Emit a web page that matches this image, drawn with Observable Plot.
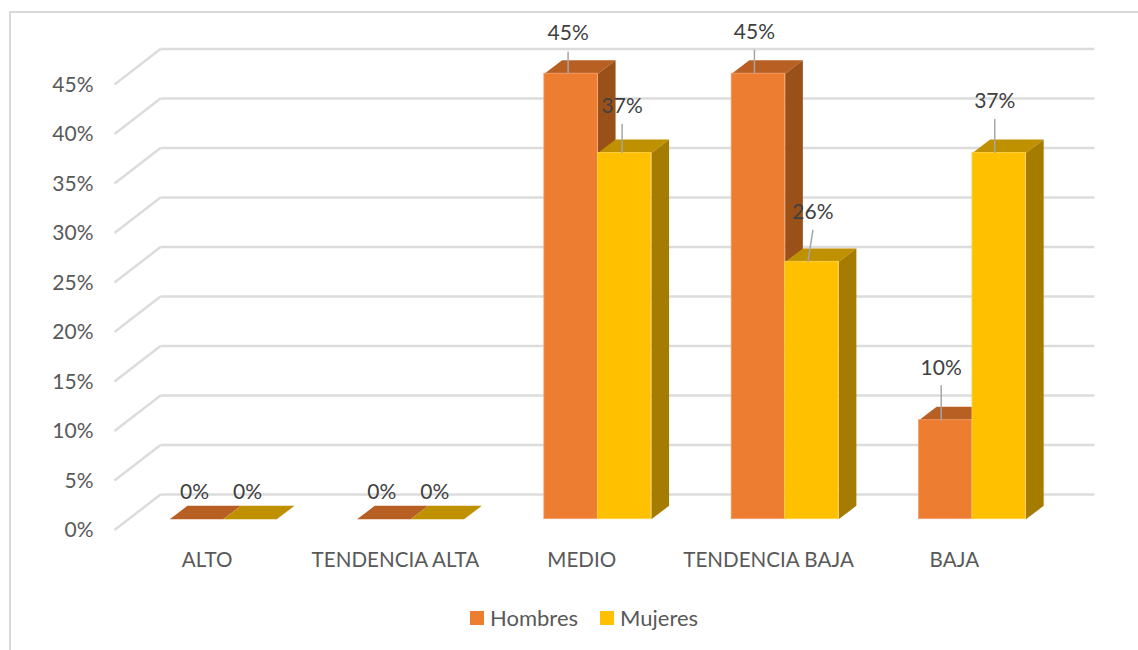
<!DOCTYPE html>
<html lang="es">
<head>
<meta charset="utf-8">
<style>
  html, body { margin: 0; padding: 0; background: #fff; overflow: hidden; }
  body { width: 1138px; height: 650px; position: relative; font-family: Lato, "Open Sans", sans-serif; }
  #frame { position: absolute; left: 9px; top: 11px; right: 0; bottom: 0; border-top: 2px solid #d9d9d9; border-left: 2px solid #d9d9d9; pointer-events: none; }
  #chart svg { display: block; }
  #legend { position: absolute; left: 0; top: 590px; width: 1138px; height: 60px; color: #595959; font-size: 22px; }
  #legend span { position: absolute; top: 15px; line-height: 25px; }
  #legend i { position: absolute; top: 20.5px; width: 14px; height: 14px; }
</style>
<script src="https://cdn.jsdelivr.net/npm/d3@7"></script>
<script src="https://cdn.jsdelivr.net/npm/@observablehq/plot@0.6"></script>
</head>
<body>
<div id="frame"></div>
<div id="chart"></div>
<div id="legend"></div>
<script>
const categories = ["ALTO", "TENDENCIA ALTA", "MEDIO", "TENDENCIA BAJA", "BAJA"];
const hombres = [0, 0, 45, 45, 10];
const mujeres = [0, 0, 37, 26, 37];
const yTicks = [0, 5, 10, 15, 20, 25, 30, 35, 40, 45];

const seriesStyle = {
  Hombres: { front: "#ed7d31", top: "#b85f24", side: "#9a5019", edge: "#f3a26c" },
  Mujeres: { front: "#ffc000", top: "#bf9000", side: "#a67c00", edge: "#ffd24d" }
};

// Leader-line label placement in pixels: [text dx from bar centre, text y above top, leader gap, leader foot dx]
const labelPlace = {
  "MEDIO|Hombres": [-3, 40, 22, 0], "MEDIO|Mujeres": [-2.5, 47, 29, 0],
  "TENDENCIA BAJA|Hombres": [-4, 41, 24, 0], "TENDENCIA BAJA|Mujeres": [1, 50, 32, -5],
  "BAJA|Hombres": [-4.5, 52, 35, 0], "BAJA|Mujeres": [-4.5, 52, 34, 0]
};
const zeroLabelDx = [-2, -2.5];
const categoryNudge = [-1, 0, -1, -1.5, -3];

const PXU = 187.3, PXV = 9.9;
const barStart = 0.295, barW = 0.2857, depthX = 0.0945, depthY = 1.35;
const backX = 0.2456, backY = 2.49, frontY = -1.09, gridEnd = 5.232;
const FONT = "Lato, 'Open Sans', sans-serif";

const bars = categories.flatMap((c, i) => [
  { c, i, s: "Hombres", k: 0, v: hombres[i] },
  { c, i, s: "Mujeres", k: 1, v: mujeres[i] }
]).map(d => ({ ...d, x0: d.i + barStart + d.k * barW, x1: d.i + barStart + (d.k + 1) * barW }));

const facePts = (d, kind) => kind === "top"
  ? [[d.x0, d.v], [d.x1, d.v], [d.x1 + depthX, d.v + depthY], [d.x0 + depthX, d.v + depthY]]
  : [[d.x1, 0], [d.x1, d.v], [d.x1 + depthX, d.v + depthY], [d.x1 + depthX, depthY]];

const face = (d, kind) => Plot.line(facePts(d, kind), {
  x: p => p[0], y: p => p[1], fill: seriesStyle[d.s][kind], stroke: "none", curve: "linear-closed"
});

const barMarks = bars.flatMap(d => {
  const parts = [face(d, "top")];
  if (d.v > 0) {
    parts.push(face(d, "side"));
    parts.push(Plot.rect([d], {
      x1: "x0", x2: "x1", y1: 0, y2: "v",
      fill: seriesStyle[d.s].front, stroke: seriesStyle[d.s].edge, strokeWidth: 0.8
    }));
  }
  return parts;
});

const labelMarks = bars.flatMap(d => {
  const cx = (d.x0 + d.x1) / 2;
  const text = { fill: "#404040", fontSize: 21, fontFamily: FONT };
  if (d.v === 0) {
    return [Plot.text([d], { x: () => cx, y: 0, text: () => d.v + "%", dx: zeroLabelDx[d.k], dy: -26.5, ...text })];
  }
  const [dx, up, gap, foot] = labelPlace[d.c + "|" + d.s];
  return [
    Plot.link([d], {
      x1: () => cx + (dx + foot) / PXU, y1: () => d.v,
      x2: () => cx + dx / PXU, y2: () => d.v + gap / PXV,
      stroke: "#a6a6a6", strokeWidth: 1.5
    }),
    Plot.text([d], { x: () => cx + dx / PXU, y: () => d.v + up / PXV, text: () => d.v + "%", ...text })
  ];
});

const chart = Plot.plot({
  width: 1138,
  height: 590,
  marginLeft: 114, marginRight: 44, marginTop: 40, marginBottom: 60,
  x: { type: "linear", domain: [0, 5], range: [114, 114 + 5 * PXU], axis: null },
  y: { type: "linear", domain: [0, 45], range: [518.7, 73.2], axis: null },
  style: { background: "transparent", overflow: "visible" },
  marks: [
    Plot.link(yTicks, {
      x1: 0, y1: v => v + frontY, x2: backX, y2: v => v + backY,
      stroke: "#dcdcdc", strokeWidth: 2.4
    }),
    Plot.link(yTicks, {
      x1: backX, y1: v => v + backY, x2: gridEnd, y2: v => v + backY,
      stroke: "#dcdcdc", strokeWidth: 2.4
    }),
    Plot.axisY(yTicks, {
      anchor: "left", tickSize: 0, tickPadding: 21, dy: 11.5,
      tickFormat: v => v + "%", label: null,
      fill: "#595959", fontSize: 21, fontFamily: FONT
    }),
    ...barMarks,
    ...labelMarks,
    Plot.text(categories, {
      x: (c, i) => i + 0.5 + categoryNudge[i] / PXU,
      y: () => -4.2,
      text: c => c,
      fill: "#595959", fontSize: 20.6, fontFamily: FONT
    })
  ]
});
document.getElementById("chart").appendChild(chart);

const legendItems = [["Hombres", 470, 490], ["Mujeres", 600, 620]];
const legend = document.getElementById("legend");
for (const [name, sx, tx] of legendItems) {
  const sw = document.createElement("i");
  sw.style.left = sx + "px";
  sw.style.background = seriesStyle[name].front;
  const lab = document.createElement("span");
  lab.style.left = tx + "px";
  lab.textContent = name;
  legend.append(sw, lab);
}
</script>
</body>
</html>
